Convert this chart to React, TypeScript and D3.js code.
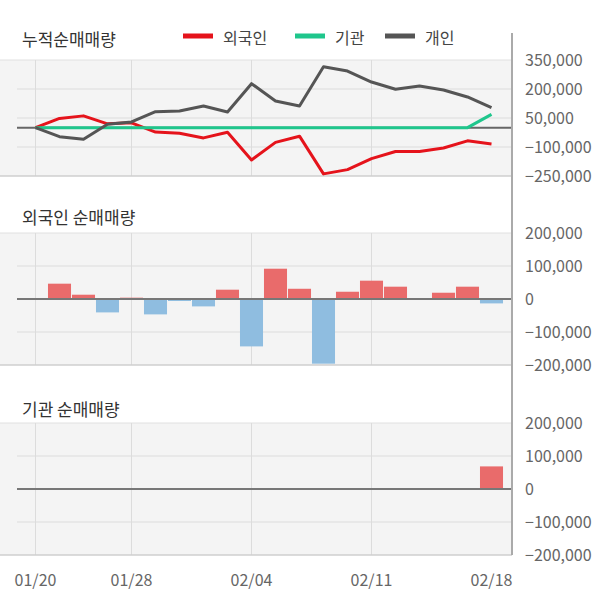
import React from 'react';
import * as d3 from 'd3';

const dates = ["01/20","01/21","01/22","01/23","01/28","01/29","01/30","01/31","02/03","02/04","02/05","02/06","02/07","02/10","02/11","02/12","02/13","02/14","02/17","02/18"];
const xTickLabels = ["01/20","01/28","02/04","02/11","02/18"];
const gridDates = ["01/20","01/28","02/04","02/11"];

const foreignCum = [0, 48000, 61000, 20000, 25000, -23000, -29000, -53000, -24000, -167000, -76000, -44000, -239000, -217000, -160000, -123000, -123000, -105000, -68000, -84000];
const instCum = [0, 0, 0, 0, 0, 0, 0, 0, 0, 0, 0, 0, 0, 0, 0, 0, 0, 0, 0, 69000];
const indivCum = [0, -46500, -60000, 17600, 29500, 82800, 86400, 112000, 81000, 227600, 138000, 112000, 315500, 293000, 236000, 198600, 215700, 195000, 158800, 103400];

const foreignNet = [0, 46400, 13000, -40600, 4000, -46600, -6000, -22400, 28200, -143600, 91800, 31000, -196000, 22000, 55500, 37300, 0, 19000, 37300, -13300];
const instNet = [0, 0, 0, 0, 0, 0, 0, 0, 0, 0, 0, 0, 0, 0, 0, 0, 0, 0, 0, 68500];

const cumTicks = [350000, 200000, 50000, -100000, -250000];
const netTicks = [200000, 100000, 0, -100000, -200000];

const seriesNames = ["외국인", "기관", "개인"];
const seriesColors = ["#e5131b", "#1fc68c", "#555555"];

const FONT = '"Noto Sans CJK KR", "Noto Sans", sans-serif';
const AXIS_X = 512;
const PLOT_L = 17;
const fmt = d3.format(",");

export default function App() {
  const x = d3.scaleBand<string>().domain(dates).range([23.5, 503.5]).paddingInner(0.04).paddingOuter(0.02);
  const cx = (d: string) => (x(d) as number) + x.bandwidth() / 2;

  const yCum = d3.scaleLinear().domain([-250000, 350000]).range([176, 60]);
  const yF = d3.scaleLinear().domain([-200000, 200000]).range([365, 233]);
  const yI = d3.scaleLinear().domain([-200000, 200000]).range([555, 423]);

  const line = (vals: number[]) =>
    d3.line<number>().x((_, i) => cx(dates[i])).y((v) => yCum(v))(vals) || '';

  const panel = (y: d3.ScaleLinear<number, number>, ticks: number[], key: string) => {
    const [bottom, top] = y.range();
    return (
      <g key={key}>
        <rect x={0} y={top} width={AXIS_X} height={bottom - top} fill="#f4f4f4" />
        <line x1={0} x2={AXIS_X} y1={top} y2={top} stroke="#e0e0e0" strokeWidth={1} />
        {ticks.slice(1, -1).map((t) => (
          <line key={t} x1={PLOT_L} x2={AXIS_X} y1={y(t)} y2={y(t)} stroke="#dcdcdc" strokeWidth={1} />
        ))}
        {gridDates.map((d) => (
          <line key={d} x1={cx(d)} x2={cx(d)} y1={top} y2={bottom} stroke="#dcdcdc" strokeWidth={1} />
        ))}
        <line x1={0} x2={AXIS_X} y1={bottom} y2={bottom} stroke="#cfcfcf" strokeWidth={1.5} />
        {ticks.map((t) => (
          <text key={'l' + t} x={525} y={y(t)} dy="0.35em" fontSize={16} fill="#666" fontFamily={FONT}>
            {fmt(t)}
          </text>
        ))}
      </g>
    );
  };

  const bars = (vals: number[], y: d3.ScaleLinear<number, number>, key: string) => (
    <g key={key}>
      {vals.map((v, i) =>
        v === 0 ? null : (
          <rect
            key={i}
            x={x(dates[i]) as number}
            width={x.bandwidth()}
            y={Math.min(y(v), y(0))}
            height={Math.abs(y(v) - y(0))}
            fill={v > 0 ? '#e96b6b' : '#8fbde0'}
          />
        )
      )}
      <line x1={PLOT_L} x2={AXIS_X} y1={y(0)} y2={y(0)} stroke="#777" strokeWidth={2} />
    </g>
  );

  const legendX = [183, 295, 385];
  return (
    <svg width={600} height={604} style={{ position: 'absolute', left: 0, top: 0, background: '#fff' }} fontFamily={FONT}>
      {panel(yCum, cumTicks, 'p1')}
      {panel(yF, netTicks, 'p2')}
      {panel(yI, netTicks, 'p3')}

      <line x1={PLOT_L} x2={AXIS_X} y1={yCum(0)} y2={yCum(0)} stroke="#666" strokeWidth={2} />
      <path d={line(foreignCum)} fill="none" stroke={seriesColors[0]} strokeWidth={3} strokeLinejoin="round" />
      <path d={line(instCum)} fill="none" stroke={seriesColors[1]} strokeWidth={3} strokeLinejoin="round" />
      <path d={line(indivCum)} fill="none" stroke={seriesColors[2]} strokeWidth={3} strokeLinejoin="round" />

      {bars(foreignNet, yF, 'b1')}
      {bars(instNet, yI, 'b2')}

      <line x1={AXIS_X} x2={AXIS_X} y1={33} y2={555} stroke="#aaa" strokeWidth={2} />

      <text x={22} y={40} dy="0.35em" fontSize={17} fill="#333">누적순매매량</text>
      <text x={22} y={218} dy="0.35em" fontSize={17} fill="#333">외국인 순매매량</text>
      <text x={22} y={410} dy="0.35em" fontSize={17} fill="#333">기관 순매매량</text>

      {seriesNames.map((n, i) => (
        <g key={n}>
          <line x1={legendX[i]} x2={legendX[i] + 30} y1={36} y2={36} stroke={seriesColors[i]} strokeWidth={5} />
          <text x={legendX[i] + 40} y={38} dy="0.35em" fontSize={16} fill="#444">{n}</text>
        </g>
      ))}

      {xTickLabels.map((d) => (
        <text key={d} x={cx(d)} y={580} dy="0.35em" textAnchor="middle" fontSize={16} fill="#666">{d}</text>
      ))}
    </svg>
  );
}
